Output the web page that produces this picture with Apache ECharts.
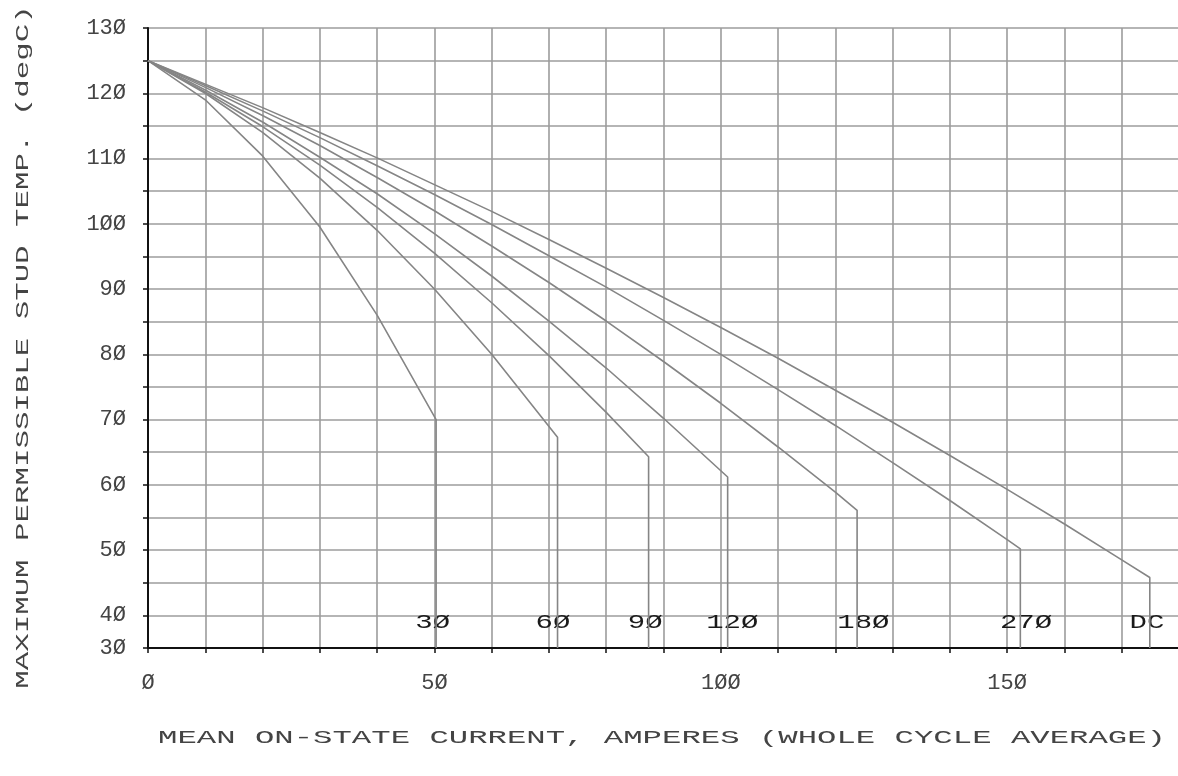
<!doctype html>
<html>
<head>
<meta charset="UTF-8">
<title>Stud temperature vs mean on-state current</title>
<script src="https://cdn.jsdelivr.net/npm/echarts@6/dist/echarts.min.js"></script>
<style>
  html, body { margin: 0; padding: 0; background: #fff; }
  #main { width: 1178px; height: 776px; }
</style>
</head>
<body>
<div id="main"></div>
<script>
// values: current (A) and max stud temp (degC) for each conduction angle
var amps30 = [0, 10, 20, 30, 40, 50.3, 50.3];
var temp30 = [125, 119, 110.4, 99.5, 86, 70, 35];

var amps60 = [0, 10, 20, 30, 40, 50, 60, 71.5, 71.5];
var temp60 = [125, 120, 114, 107, 99, 90, 80, 67.3, 35];

var amps90 = [0, 10, 20, 30, 40, 50, 60, 70, 80, 87.4, 87.4];
var temp90 = [125, 120.2, 114.9, 109, 102.5, 95.5, 87.9, 79.8, 71.1, 64.3, 35];

var amps120 = [0, 10, 20, 30, 40, 50, 60, 70, 80, 90, 101.2, 101.2];
var temp120 = [125, 120.5, 115.6, 110.2, 104.6, 98.5, 92, 85.1, 77.9, 70.2, 61.2, 35];

var amps180 = [0, 10, 20, 30, 40, 50, 60, 70, 80, 90, 100, 110, 120, 123.8, 123.8];
var temp180 = [125, 120.9, 116.6, 112, 107.1, 102, 96.6, 91, 85.1, 78.9, 72.5, 65.8, 58.9, 56.1, 35];

var amps270 = [0, 10, 20, 30, 40, 50, 60, 70, 80, 90, 100, 110, 120, 130, 140, 150, 152.3, 152.3];
var temp270 = [125, 121.2, 117.3, 113.2, 108.9, 104.5, 99.9, 95.1, 90.3, 85.2, 80, 74.6, 69.1, 63.4, 57.6, 51.6, 50.2, 35];

var ampsDC = [0, 10, 20, 30, 40, 50, 60, 70, 80, 90, 100, 110, 120, 130, 140, 150, 160, 170, 174.9, 174.9];
var tempDC = [125, 121.4, 117.8, 114, 110.1, 106, 101.9, 97.6, 93.2, 88.7, 84.1, 79.4, 74.5, 69.6, 64.5, 59.3, 54, 48.5, 45.8, 35];

// curve labels sit just under the 40 line
var curveNames = ['30', '60', '90', '120', '180', '270', 'DC'];
var labelAmps = [49.7, 70.7, 86.8, 102, 124.9, 153.3, 174.4];
var labelTemp = [38.9, 38.9, 38.9, 38.9, 38.9, 38.9, 38.9];

// tick labels (the plotter put "30" at the bottom of the frame)
var xTickValues = [0, 50, 100, 150];
var xTickTexts = ['0', '50', '100', '150'];
var yTickValues = [35, 40, 50, 60, 70, 80, 90, 100, 110, 120, 130];
var yTickTexts = ['30', '40', '50', '60', '70', '80', '90', '100', '110', '120', '130'];

var xTitle = 'MEAN ON-STATE CURRENT, AMPERES (WHOLE CYCLE AVERAGE)';
var yTitle = 'MAXIMUM PERMISSIBLE STUD TEMP. (degC)';

// plotter style slashed zero
function slash(s) { return String(s).replace(/0/g, '\u00D8'); }

function pairs(xs, ys) {
    var out = [];
    for (var i = 0; i < xs.length; i++) out.push([xs[i], ys[i]]);
    return out;
}

function tickText(values, texts, v) {
    var i = values.indexOf(v);
    return i < 0 ? '' : slash(texts[i]);
}

var FONT = '"Liberation Mono", "DejaVu Sans Mono", monospace';
var curves = [
    [amps30, temp30], [amps60, temp60], [amps90, temp90], [amps120, temp120],
    [amps180, temp180], [amps270, temp270], [ampsDC, tempDC]
];

var series = curves.map(function (c, i) {
    return {
        name: curveNames[i],
        type: 'line',
        data: pairs(c[0], c[1]),
        showSymbol: false,
        silent: true,
        lineStyle: { color: '#858585', width: 1.6 }
    };
});

// curve labels, stretched like the plotter lettering
series.push({
    type: 'custom',
    silent: true,
    data: labelAmps.map(function (a, i) { return [a, labelTemp[i], i]; }),
    renderItem: function (params, api) {
        var p = api.coord([api.value(0), api.value(1)]);
        return {
            type: 'text',
            x: p[0], y: p[1],
            scaleX: 1.45,
            style: {
                text: slash(curveNames[api.value(2)]),
                font: '20px ' + FONT,
                fill: '#1a1a1a',
                align: 'center', verticalAlign: 'middle',
                textAlign: 'center', textVerticalAlign: 'middle'
            }
        };
    }
});

var myChart = echarts.init(document.getElementById('main'));
var option = {
    animation: false,
    backgroundColor: '#fff',
    grid: { left: 148, right: -1, top: 28, bottom: 128, containLabel: false, outerBoundsMode: 'none' },
    xAxis: {
        type: 'value',
        min: 0, max: 180, interval: 10,
        axisLine: { show: true, lineStyle: { color: '#111', width: 2 } },
        axisTick: { show: true, length: 5, lineStyle: { color: '#111', width: 1.5 } },
        splitLine: { show: true, lineStyle: { color: '#9c9c9c', width: 1.6 } },
        axisLabel: {
            margin: 24,
            fontFamily: FONT, fontSize: 22, color: '#444',
            showMinLabel: true, showMaxLabel: true,
            formatter: function (v) { return tickText(xTickValues, xTickTexts, v); }
        }
    },
    yAxis: {
        type: 'value',
        min: 35, max: 130, interval: 5,
        axisLine: { show: true, lineStyle: { color: '#111', width: 2 } },
        axisTick: { show: true, length: 5, lineStyle: { color: '#111', width: 1.5 } },
        splitLine: { show: true, lineStyle: { color: '#9c9c9c', width: 1.6 } },
        axisLabel: {
            margin: 22,
            fontFamily: FONT, fontSize: 22, color: '#444',
            showMinLabel: true, showMaxLabel: true,
            formatter: function (v) { return tickText(yTickValues, yTickTexts, v); }
        }
    },
    graphic: [
        {
            type: 'text',
            x: 662, y: 738,
            scaleX: 1.7,
            style: {
                text: xTitle,
                font: '19px ' + FONT,
                fill: '#444',
                textAlign: 'center',
                textVerticalAlign: 'middle'
            }
        },
        {
            type: 'text',
            x: 23, y: 347,
            rotation: Math.PI / 2,
            scaleX: 1.62,
            style: {
                text: yTitle,
                font: '19px ' + FONT,
                fill: '#444',
                textAlign: 'center',
                textVerticalAlign: 'middle'
            }
        }
    ],
    series: series
};
myChart.setOption(option);
</script>
</body>
</html>
